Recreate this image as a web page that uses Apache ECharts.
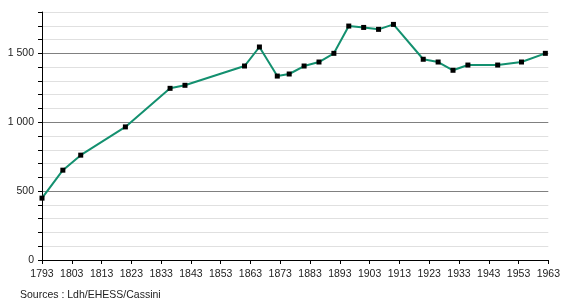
<!DOCTYPE html>
<html>
<head>
<meta charset="utf-8">
<script src="https://cdn.jsdelivr.net/npm/echarts@6/dist/echarts.min.js"></script>
<style>
html,body{margin:0;padding:0;background:#fff;}
#chart{width:563px;height:300px;}
</style>
</head>
<body>
<div id="chart"></div>
<script>
const years = [1793, 1800, 1806, 1821, 1836, 1841, 1861, 1866, 1872, 1876, 1881, 1886, 1891, 1896, 1901, 1906, 1911, 1921, 1926, 1931, 1936, 1946, 1954, 1962];
const population = [449, 652, 761, 966, 1246, 1268, 1408, 1546, 1335, 1350, 1408, 1437, 1500, 1698, 1688, 1674, 1710, 1457, 1437, 1377, 1415, 1415, 1437, 1500];
const yLabels = {0: '0', 500: '500', 1000: '1 000', 1500: '1 500'};
const sourceText = 'Sources : Ldh/EHESS/Cassini';

const chart = echarts.init(document.getElementById('chart'));
const font = 'Liberation Sans, Arial, sans-serif';
chart.setOption({
  animation: false,
  backgroundColor: '#fff',
  grid: {left: 42, right: 11, top: 12, bottom: 40, containLabel: false},
  xAxis: {
    type: 'value', min: 1793, max: 1963, interval: 10,
    axisLine: {show: true, lineStyle: {color: '#000', width: 1}},
    axisTick: {show: true, length: 4, lineStyle: {color: '#000'}},
    axisLabel: {color: '#222', fontSize: 10.5, fontFamily: font, margin: 9,
      formatter: v => String(v)},
    splitLine: {show: false}
  },
  yAxis: {
    type: 'value', min: 0, max: 1800, interval: 100,
    axisLine: {show: true, lineStyle: {color: '#000', width: 1}},
    axisTick: {show: true, length: 4, lineStyle: {color: '#000'}},
    axisLabel: {color: '#222', fontSize: 10.5, fontFamily: font, margin: 8,
      formatter: v => (yLabels[v] !== undefined ? yLabels[v] : '')},
    splitLine: {show: true, lineStyle: {color: ['#808080', '#e0e0e0', '#e0e0e0', '#e0e0e0', '#e0e0e0'], width: 1}}
  },
  graphic: [{
    type: 'text', left: 20, top: 290,
    style: {text: sourceText, fill: '#222', fontSize: 10.5, fontFamily: font}
  }],
  series: [{
    type: 'line',
    data: years.map((y, i) => [y, population[i]]),
    lineStyle: {color: '#13906f', width: 2},
    itemStyle: {color: '#000'},
    symbol: 'rect', symbolSize: 5,
    z: 3
  }]
});
</script>
</body>
</html>
